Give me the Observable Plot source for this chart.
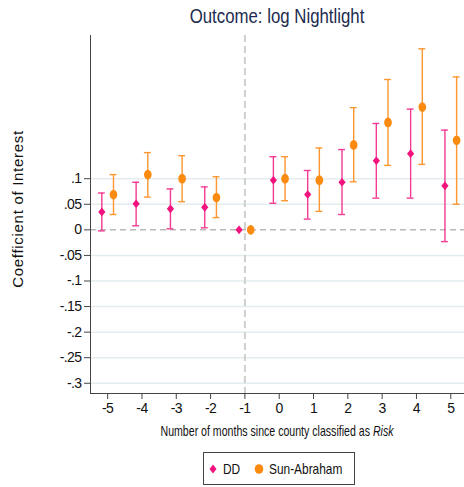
<!DOCTYPE html>
<html><head><meta charset="utf-8">
<script src="https://cdn.jsdelivr.net/npm/d3@7"></script>
<script src="https://cdn.jsdelivr.net/npm/@observablehq/plot@0.6"></script>
<style>
body{margin:0;background:#fff;}
#wrap{position:relative;width:464px;height:487px;overflow:hidden;font-family:"Liberation Sans",Arial,sans-serif;color:#111;}
#title{position:absolute;left:90px;width:374px;top:5px;text-align:center;font-size:20px;color:#1c2b4f;transform:scaleX(0.84);white-space:nowrap;}
#chart{position:absolute;left:0;top:0;}
#ylab{position:absolute;left:17px;top:209px;transform:translate(-50%,-50%) rotate(-90deg);white-space:nowrap;font-size:15px;letter-spacing:0.7px;}
#xlab{position:absolute;left:90px;width:374px;top:423px;text-align:center;font-size:14.5px;transform:scaleX(0.73);white-space:nowrap;}
#legend{position:absolute;left:203px;top:452px;width:152px;height:33px;border:1px solid #444;box-sizing:border-box;font-size:14.5px;}
#legend .it{position:absolute;top:8px;display:flex;align-items:center;white-space:nowrap;}
#legend .lab{display:inline-block;transform:scaleX(0.82);transform-origin:left center;margin-left:5px;}
svg text{letter-spacing:-0.6px;}
</style></head><body>
<div id="wrap">
 <div id="chart"></div>
 <div id="title">Outcome: log Nightlight</div>
 <div id="ylab">Coefficient of Interest</div>
 <div id="xlab">Number of months since county classified as <i>Risk</i></div>
 <div id="legend"></div>
</div>
<script>
const periods = [-5,-4,-3,-2,-1,0,1,2,3,4,5];
const ddCoef = [0.035,0.051,0.041,0.044,0,0.097,0.069,0.093,0.135,0.149,0.086];
const ddLo   = [-0.002,0.008,0.002,0.004,null,0.052,0.021,0.030,0.062,0.062,-0.023];
const ddHi   = [0.072,0.093,0.080,0.084,null,0.143,0.116,0.157,0.208,0.236,0.195];
const saCoef = [0.069,0.108,0.100,0.063,0,0.100,0.097,0.166,0.210,0.240,0.175];
const saLo   = [0.030,0.064,0.055,0.024,null,0.057,0.036,0.094,0.126,0.128,0.050];
const saHi   = [0.108,0.151,0.145,0.104,null,0.143,0.160,0.239,0.294,0.354,0.299];
const yTicks = [-0.3,-0.25,-0.2,-0.15,-0.1,-0.05,0,0.05,0.1];
const seriesNames = ["DD","Sun-Abraham"];
const colors = ["#f2127e","#fb8a10"];
const barColors = ["#f43a92","#fb9630"];

const ddRows = periods.map((p,i)=>({x:p-0.17, coef:ddCoef[i], lo:ddLo[i], hi:ddHi[i]}));
const saRows = periods.map((p,i)=>({x:p+0.17, coef:saCoef[i], lo:saLo[i], hi:saHi[i]}));
const fmtY = d => d===0 ? "0" : d3.format(".2~f")(d).replace("\u2212","-").replace("0.", ".");
const font = '"Liberation Sans",Arial,sans-serif';

// custom marker shapes; r0 equals the dot's r
const diamondSym = {draw(ctx, size){ const r0=Math.sqrt(size/Math.PI); const w=r0, h=r0*1.2;
  ctx.moveTo(0,-h); ctx.lineTo(w,0); ctx.lineTo(0,h); ctx.lineTo(-w,0); ctx.closePath(); }};
const ellipseSym = {draw(ctx, size){ const r0=Math.sqrt(size/Math.PI); const rx=r0*0.78, ry=r0, k=0.5523;
  ctx.moveTo(0,-ry);
  ctx.bezierCurveTo(k*rx,-ry, rx,-k*ry, rx,0);
  ctx.bezierCurveTo(rx,k*ry, k*rx,ry, 0,ry);
  ctx.bezierCurveTo(-k*rx,ry, -rx,k*ry, -rx,0);
  ctx.bezierCurveTo(-rx,-k*ry, -k*rx,-ry, 0,-ry); ctx.closePath(); }};

function errMarks(rows, color){
  const r = rows.filter(d=>d.hi!=null);
  return [
    Plot.ruleX(r, {x:"x", y1:"lo", y2:"hi", stroke:color, strokeWidth:1.4}),
    Plot.ruleY(r, {y:"hi", x1:d=>d.x-0.1, x2:d=>d.x+0.1, stroke:color, strokeWidth:1.4}),
    Plot.ruleY(r, {y:"lo", x1:d=>d.x-0.1, x2:d=>d.x+0.1, stroke:color, strokeWidth:1.4})
  ];
}

const chart = Plot.plot({
  width:464, height:445,
  marginTop:35, marginBottom:52, marginLeft:90, marginRight:0,
  style:{fontFamily:font, fontSize:"14px", color:"#111", background:"transparent"},
  x:{domain:[-5.5,5.4], label:null},
  y:{domain:[-0.32,0.38], label:null},
  marks:[
    Plot.gridY(yTicks.filter(d=>d!==0), {stroke:"#e3ecef", strokeOpacity:1, strokeWidth:1.5}),
    Plot.ruleY([0], {stroke:"#b9b9b9", strokeDasharray:"6,4", strokeWidth:1.5}),
    Plot.ruleX([-1], {stroke:"#cfcfcf", strokeDasharray:"7,4", strokeWidth:2}),
    Plot.axisY(yTicks, {tickFormat:fmtY, tickSize:6, tickPadding:3, label:null, stroke:"#444"}),
    Plot.axisX(periods, {tickFormat:d=>String(d), tickSize:6, tickPadding:4, label:null, stroke:"#444"}),
    Plot.ruleX([-5.5], {stroke:"#444", strokeWidth:1}),
    Plot.ruleY([-0.32], {stroke:"#444", strokeWidth:1}),
    ...errMarks(ddRows, barColors[0]),
    ...errMarks(saRows, barColors[1]),
    Plot.dot(ddRows, {x:"x", y:"coef", symbol:diamondSym, r:3.6, fill:colors[0], stroke:"none"}),
    Plot.dot(saRows, {x:"x", y:"coef", symbol:ellipseSym, r:4.9, fill:colors[1], stroke:"none"})
  ]
});
document.getElementById("chart").appendChild(chart);

const leg = document.getElementById("legend");
const legPos = [4, 50];
seriesNames.forEach((n,i)=>{
  const it = document.createElement("div");
  it.className = "it";
  it.style.left = legPos[i]+"px";
  const sym = i===0
    ? `<svg width="10" height="14"><path d="M5 2.5 L8.5 7 L5 11.5 L1.5 7 Z" fill="${colors[0]}"/></svg>`
    : `<svg width="10" height="14"><ellipse cx="5" cy="7" rx="4.3" ry="4.8" fill="${colors[1]}"/></svg>`;
  it.innerHTML = sym + `<span class="lab">${n}</span>`;
  leg.appendChild(it);
});
</script>
</body></html>
